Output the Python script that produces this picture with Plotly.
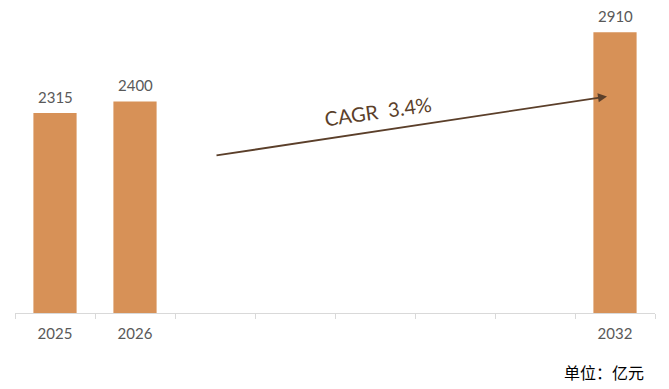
import plotly.graph_objects as go

years = ["2025", "2026", "2027", "2028", "2029", "2030", "2031", "2032"]
values = [2315, 2400, None, None, None, None, None, 2910]
hidden_ticks = ["2027", "2028", "2029", "2030", "2031"]

cagr_text = "CAGR  3.4%"
unit_text = "单位：亿元"

# arrow annotation anchors (category index, value)
arrow_start = (2.0, 2000)
arrow_end = (6.9, 2437)
cagr_pos = (4.04, 2332)

bar_color = "#D79157"
grey = "#595959"
brown = "#5B3F2A"

fig = go.Figure()
fig.add_trace(go.Bar(
    x=years, y=values,
    marker=dict(color=bar_color, line=dict(width=0)),
    hoverinfo="skip",
))

# value labels above bars
for i, v in enumerate(values):
    if v is None:
        continue
    fig.add_annotation(
        x=i, y=v, xref="x", yref="y", text=str(v), showarrow=False,
        yanchor="bottom", yshift=5,
        font=dict(family="Lato", size=15, color=grey),
    )

fig.add_annotation(
    x=arrow_end[0], y=arrow_end[1], ax=arrow_start[0], ay=arrow_start[1],
    xref="x", yref="y", axref="x", ayref="y",
    text="", showarrow=True, arrowhead=2, arrowsize=1, arrowwidth=1.8,
    arrowcolor=brown,
)
fig.add_annotation(
    x=cagr_pos[0], y=cagr_pos[1], xref="x", yref="y",
    text=cagr_text, showarrow=False, textangle=-8,
    font=dict(family="Lato", size=20, color=brown),
)
fig.add_annotation(
    x=0.986, y=-0.196, xref="paper", yref="paper",
    xanchor="right", yanchor="middle",
    text=unit_text, showarrow=False,
    font=dict(family="Noto Sans CJK SC", size=16, color="black"),
)

fig.update_layout(
    width=669, height=389,
    margin=dict(l=15, r=14, t=10, b=76),
    paper_bgcolor="white", plot_bgcolor="white",
    bargap=0.46, showlegend=False,
    font=dict(family="Lato", size=14, color=grey),
)
fig.update_xaxes(
    type="category", showline=True, linecolor="#D9D9D9", linewidth=1,
    ticks="outside", tickson="boundaries", ticklen=5, tickcolor="#D9D9D9",
    labelalias={t: " " for t in hidden_ticks},
    ticklabelstandoff=7,
    tickfont=dict(family="Lato", size=15, color=grey), showgrid=False,
    zeroline=False,
)
fig.update_yaxes(range=[839, 3075], visible=False, showgrid=False, zeroline=False)

fig.write_html("out.html")
